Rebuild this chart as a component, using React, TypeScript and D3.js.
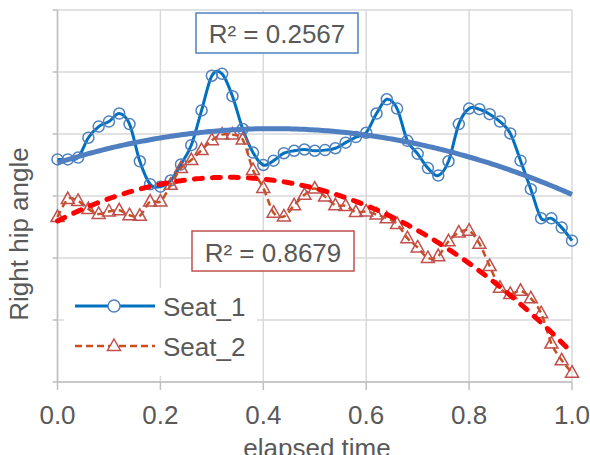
import React from 'react';
import * as d3 from 'd3';

// elapsed time (x) for every sample
const elapsed = [
  0, 0.02, 0.04, 0.06, 0.08, 0.1, 0.12, 0.14, 0.16, 0.18,
  0.2, 0.22, 0.24, 0.26, 0.28, 0.3, 0.32, 0.34, 0.36, 0.38,
  0.4, 0.42, 0.44, 0.46, 0.48, 0.5, 0.52, 0.54, 0.56, 0.58,
  0.6, 0.62, 0.64, 0.66, 0.68, 0.7, 0.72, 0.74, 0.76, 0.78,
  0.8, 0.82, 0.84, 0.86, 0.88, 0.9, 0.92, 0.94, 0.96, 0.98, 1,
];
const seat1 = [
  3.59, 3.59, 3.62, 3.94, 4.12, 4.2, 4.33, 4.16, 3.56, 3.19,
  3.15, 3.25, 3.51, 3.82, 4.38, 4.94, 4.97, 4.61, 4.08, 3.7,
  3.5, 3.57, 3.69, 3.73, 3.75, 3.73, 3.74, 3.77, 3.86, 3.95,
  4.02, 4.33, 4.56, 4.41, 3.89, 3.68, 3.45, 3.33, 3.56, 4.16,
  4.41, 4.4, 4.32, 4.2, 4.01, 3.57, 3.11, 2.64, 2.64, 2.49, 2.28,
];
const seat2 = [
  2.66, 2.95, 2.92, 2.79, 2.71, 2.75, 2.77, 2.69, 2.68, 2.91,
  2.91, 3.18, 3.45, 3.58, 3.74, 3.9, 3.99, 3.99, 3.91, 3.42,
  3.13, 2.73, 2.67, 2.85, 3.02, 3.12, 2.99, 2.85, 2.84, 2.74,
  2.75, 2.7, 2.64, 2.55, 2.32, 2.17, 2, 2.03, 2.27, 2.41,
  2.44, 2.23, 1.87, 1.52, 1.42, 1.47, 1.35, 1.11, 0.62, 0.35, 0.15,
];
const xTicks = [0, 0.2, 0.4, 0.6, 0.8, 1];
const yTicks = [0, 1, 2, 3, 4, 5, 6];
const seriesNames = ['Seat_1', 'Seat_2'];
const r2Labels = ['R² = 0.2567', 'R² = 0.8679'];
const TREND_ORDER = 2;

// least squares polynomial (Excel style trendline)
function polyfit(xs: number[], ys: number[], order: number) {
  const n = order + 1;
  const A: number[][] = [];
  for (let i = 0; i < n; i++) {
    const row: number[] = [];
    for (let j = 0; j < n; j++) row.push(d3.sum(xs, (x) => Math.pow(x, i + j)));
    row.push(d3.sum(xs, (x, k) => ys[k] * Math.pow(x, i)));
    A.push(row);
  }
  for (let c = 0; c < n; c++) {
    let p = c;
    for (let r = c + 1; r < n; r++) if (Math.abs(A[r][c]) > Math.abs(A[p][c])) p = r;
    [A[c], A[p]] = [A[p], A[c]];
    for (let r = 0; r < n; r++) {
      if (r === c) continue;
      const f = A[r][c] / A[c][c];
      for (let k = c; k <= n; k++) A[r][k] -= f * A[c][k];
    }
  }
  return A.map((row, i) => row[n] / row[i]);
}
const evalPoly = (co: number[], x: number) => co.reduce((s, c, i) => s + c * Math.pow(x, i), 0);

const W = 590;
const H = 455;
const font = '"Liberation Sans", Arial, sans-serif';

export default function App() {
  const x = d3.scaleLinear().domain([0, 1]).range([57.5, 572]);
  const y = d3.scaleLinear().domain([0, 6]).range([382, 10]);
  const pts1 = elapsed.map((t, i) => [t, seat1[i]] as [number, number]);
  const pts2 = elapsed.map((t, i) => [t, seat2[i]] as [number, number]);
  const smooth = d3
    .line<[number, number]>()
    .x((d) => x(d[0]))
    .y((d) => y(d[1]))
    .curve(d3.curveCardinal.tension(0));
  const co1 = polyfit(elapsed, seat1, TREND_ORDER);
  const co2 = polyfit(elapsed, seat2, TREND_ORDER);
  const fine = d3.range(0, 1.0001, 0.005);
  const trend = d3
    .line<number>()
    .x((t) => x(t))
    .y((t) => y(evalPoly(co1, t)));
  const trend2 = d3
    .line<number>()
    .x((t) => x(t))
    .y((t) => y(evalPoly(co2, t)));
  const tri = 'M0,-7L6.5,4.5L-6.5,4.5Z';

  return (
    <svg width={W} height={H} style={{ position: 'absolute', left: 0, top: 0, background: '#fff' }} fontFamily={font}>
      <rect width={W} height={H} fill="#fff" />
      {yTicks.map((v) => (
        <line key={'h' + v} x1={x(0)} x2={x(1)} y1={y(v)} y2={y(v)} stroke="#D9D9D9" strokeWidth={1.5} />
      ))}
      {xTicks.map((v) => (
        <line key={'v' + v} x1={x(v)} x2={x(v)} y1={y(6)} y2={y(0)} stroke="#D9D9D9" strokeWidth={1.5} />
      ))}
      {/* axes */}
      <line x1={x(0)} x2={x(1)} y1={y(0)} y2={y(0)} stroke="#BFBFBF" strokeWidth={1.5} />
      <line x1={x(0)} x2={x(0)} y1={y(6)} y2={y(0)} stroke="#BFBFBF" strokeWidth={1.5} />
      {xTicks.map((v) => (
        <line key={'t' + v} x1={x(v)} x2={x(v)} y1={y(0)} y2={y(0) + 8} stroke="#BFBFBF" strokeWidth={1.5} />
      ))}
      {yTicks.map((v) => (
        <line key={'yt' + v} x1={x(0) - 5} x2={x(0)} y1={y(v)} y2={y(v)} stroke="#BFBFBF" strokeWidth={1.5} />
      ))}
      {xTicks.map((v) => (
        <text key={'l' + v} x={x(v)} y={424} textAnchor="middle" fontSize={26} fill="#595959">
          {v.toFixed(1)}
        </text>
      ))}
      <text x={317} y={457} textAnchor="middle" fontSize={26} fill="#595959">elapsed time</text>
      <text transform="translate(28,234) rotate(-90)" textAnchor="middle" fontSize={26} fill="#595959">
        Right hip angle
      </text>

      {/* Seat_1 */}
      <path d={smooth(pts1) || ''} fill="none" stroke="#0070C0" strokeWidth={3} />
      {pts1.map((d, i) => (
        <circle key={'c' + i} cx={x(d[0])} cy={y(d[1])} r={5.5} fill="none" stroke="#4F81BD" strokeWidth={1.5} />
      ))}
      {/* Seat_2 */}
      <path d={smooth(pts2) || ''} fill="none" stroke="#C9501C" strokeWidth={2.5} strokeDasharray="7 4" />
      {pts2.map((d, i) => (
        <path key={'p' + i} d={tri} transform={`translate(${x(d[0])},${y(d[1])})`} fill="none" stroke="#C0504D" strokeWidth={1.5} />
      ))}
      {/* trendlines */}
      <path d={trend(fine) || ''} fill="none" stroke="#4F7FC0" strokeWidth={5} />
      <path d={trend2(fine) || ''} fill="none" stroke="#FF0000" strokeWidth={5} strokeDasharray="8 10" strokeLinecap="round" />

      {/* R² labels */}
      <rect x={196} y={13} width={162} height={40} fill="#fff" stroke="#4F81BD" strokeWidth={1.5} />
      <text x={277} y={43} textAnchor="middle" fontSize={26} fill="#595959">{r2Labels[0]}</text>
      <rect x={192} y={231} width={162} height={40} fill="#fff" stroke="#C0504D" strokeWidth={1.5} />
      <text x={273} y={262} textAnchor="middle" fontSize={26} fill="#595959">{r2Labels[1]}</text>

      {/* legend */}
      <rect x={64} y={288} width={193} height={88} fill="#fff" />
      <line x1={75} x2={155} y1={306} y2={306} stroke="#0070C0" strokeWidth={3} />
      <circle cx={114} cy={306} r={6} fill="#fff" stroke="#4F81BD" strokeWidth={1.5} />
      <text x={163} y={316} fontSize={26} fill="#595959">{seriesNames[0]}</text>
      <line x1={75} x2={155} y1={346} y2={346} stroke="#C9501C" strokeWidth={2.5} strokeDasharray="7 4" />
      <path d={tri} transform="translate(114,346)" fill="#fff" stroke="#C0504D" strokeWidth={1.5} />
      <text x={163} y={356} fontSize={26} fill="#595959">{seriesNames[1]}</text>
    </svg>
  );
}
